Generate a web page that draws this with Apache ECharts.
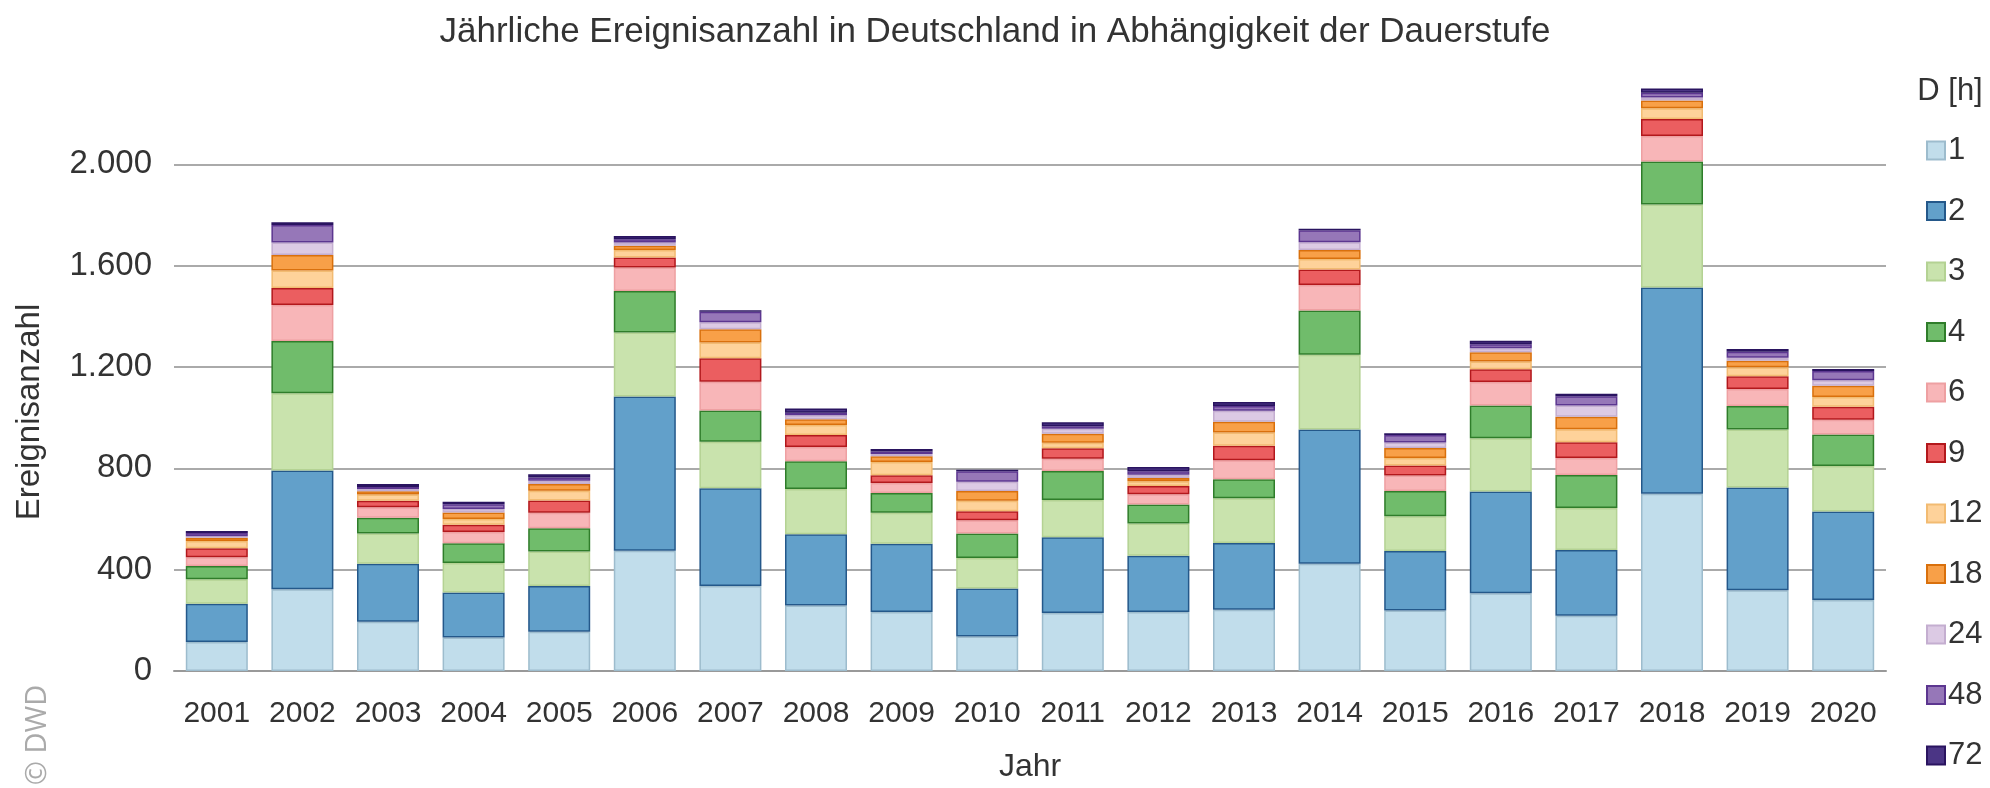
<!DOCTYPE html>
<html>
<head>
<meta charset="utf-8">
<script src="https://cdn.jsdelivr.net/npm/echarts@6/dist/echarts.min.js"></script>
<style>
  html, body { margin: 0; padding: 0; background: #fff; }
  #main { width: 1990px; height: 788px; }
</style>
</head>
<body>
<div id="main"></div>
<script>
// Jahre (x-Achse)
var years = ['2001','2002','2003','2004','2005','2006','2007','2008','2009','2010',
             '2011','2012','2013','2014','2015','2016','2017','2018','2019','2020'];

// Ereignisanzahl je Dauerstufe D [h]
var d1  = [114,323,194,132,155,475,336,259,233,136,229,233,242,423,239,307,218,700,319,280];
var d2  = [151,468,229,178,181,609,385,281,269,190,299,222,263,530,235,402,260,814,405,350];
var d3  = [ 97,305,120,116,136,252,184,178,123,120,147,127,177,295,137,210,165,327,229,179];
var d4  = [ 52,207, 62, 78, 91,164,123,110, 78, 97,114, 75, 75,175,100,129,131,170, 93,125];
var d6  = [ 35,142, 41, 45, 62, 93,114, 56, 39, 52, 49, 41, 75,101, 61, 93, 67,101, 67, 58];
var d9  = [ 36, 67, 26, 28, 48, 39, 93, 48, 31, 36, 41, 32, 57, 61, 39, 50, 62, 67, 50, 51];
var d12 = [ 28, 69, 25, 23, 39, 30, 62, 39, 52, 41, 22, 19, 52, 41, 30, 31, 51, 42, 36, 39];
var d18 = [ 13, 61, 13, 26, 26, 17, 52, 23, 23, 39, 36, 13, 43, 36, 39, 36, 50, 31, 26, 44];
var d24 = [  6, 49,  8, 13, 13, 12, 28, 16,  9, 36, 19, 13, 43, 30, 22, 16, 44, 12, 12, 22];
var d48 = [ 13, 70,  8, 19, 13, 13, 41,  9,  9, 41, 10, 13, 19, 48, 30, 16, 37, 19, 23, 36];
var d72 = [  8, 10, 12, 10, 13, 13,  6, 17, 10,  6, 16, 17, 16,  6,  6, 14,  9, 16, 11,  8];

var stufen = ['1','2','3','4','6','9','12','18','24','48','72'];
var werte  = [d1, d2, d3, d4, d6, d9, d12, d18, d24, d48, d72];

// Füllfarbe / Randfarbe je Dauerstufe
var fill   = ['#c1ddeb','#62a0ca','#c9e3ad','#70bc6b','#f8b6b8','#eb5e60','#fed29a','#f8a048','#dccae4','#9677b8','#4b3585'];
var border = ['#9dbccd','#24588a','#b4d293','#2f7d2a','#eea0a2','#b3181c','#f2bb72','#d9700c','#c4aed0','#5c3690','#2a1460'];

var txt = '#333';
var font = '"Liberation Sans", sans-serif';

var myChart = echarts.init(document.getElementById('main'));

var series = [];
for (var i = 0; i < stufen.length; i++) {
    series.push({
        name: stufen[i],
        type: 'bar',
        stack: 'gesamt',
        barWidth: 62,
        data: werte[i],
        itemStyle: {
            color: fill[i],
            borderColor: border[i],
            borderWidth: 1.5
        },
        emphasis: { disabled: true }
    });
}

// letzte Gitterlinie (2.400) unsichtbar
var gridLines = ['#aaa','#aaa','#aaa','#aaa','#aaa','#aaa','rgba(0,0,0,0)'];

myChart.setOption({
    animation: false,
    title: {
        text: 'Jährliche Ereignisanzahl in Deutschland in Abhängigkeit der Dauerstufe',
        left: 'center',
        top: 10,
        textStyle: { fontFamily: font, fontSize: 35, fontWeight: 'normal', color: txt }
    },
    legend: {
        orient: 'vertical',
        left: 1921,
        top: 130,
        itemWidth: 18,
        itemHeight: 18,
        itemGap: 29.5,
        icon: 'rect',
        textStyle: { fontFamily: font, fontSize: 31, lineHeight: 31, color: txt, padding: [0, 0, 0, -2] },
        data: stufen
    },
    grid: { left: 174, right: 104, top: 63, bottom: 106 },
    xAxis: {
        type: 'category',
        data: years,
        name: 'Jahr',
        nameLocation: 'middle',
        nameGap: 80,
        nameTextStyle: { fontFamily: font, fontSize: 32, color: txt },
        axisLine: { lineStyle: { color: '#999', width: 2 } },
        axisTick: { alignWithLabel: true, length: 5, lineStyle: { color: '#999' } },
        axisLabel: { interval: 0, fontFamily: font, fontSize: 30, color: txt, margin: 28 }
    },
    yAxis: {
        type: 'value',
        min: 0,
        max: 2400,
        interval: 400,
        axisLine: { show: false },
        axisTick: { show: false },
        axisLabel: {
            fontFamily: font, fontSize: 33, color: txt, margin: 22,
            formatter: function (v) {
                if (v === 2400) return '';
                return String(v).replace(/\B(?=(\d{3})+(?!\d))/g, '.');
            }
        },
        splitLine: { lineStyle: { color: gridLines, width: 2 } }
    },
    graphic: [
        {
            type: 'text', x: 30, y: 412, rotation: Math.PI / 2,
            style: { text: 'Ereignisanzahl', fontFamily: font, fontSize: 33, fill: txt, align: 'center', verticalAlign: 'middle' }
        },
        {
            type: 'text', x: 38, y: 735, rotation: Math.PI / 2,
            style: { text: '© DWD', fontFamily: '"Open Sans", sans-serif', fontSize: 29, fill: '#aaa', align: 'center', verticalAlign: 'middle' }
        },
        {
            type: 'text', x: 1950, y: 91,
            style: { text: 'D [h]', fontFamily: font, fontSize: 31, fill: txt, align: 'center', verticalAlign: 'middle' }
        }
    ],
    series: series
});
</script>
</body>
</html>
